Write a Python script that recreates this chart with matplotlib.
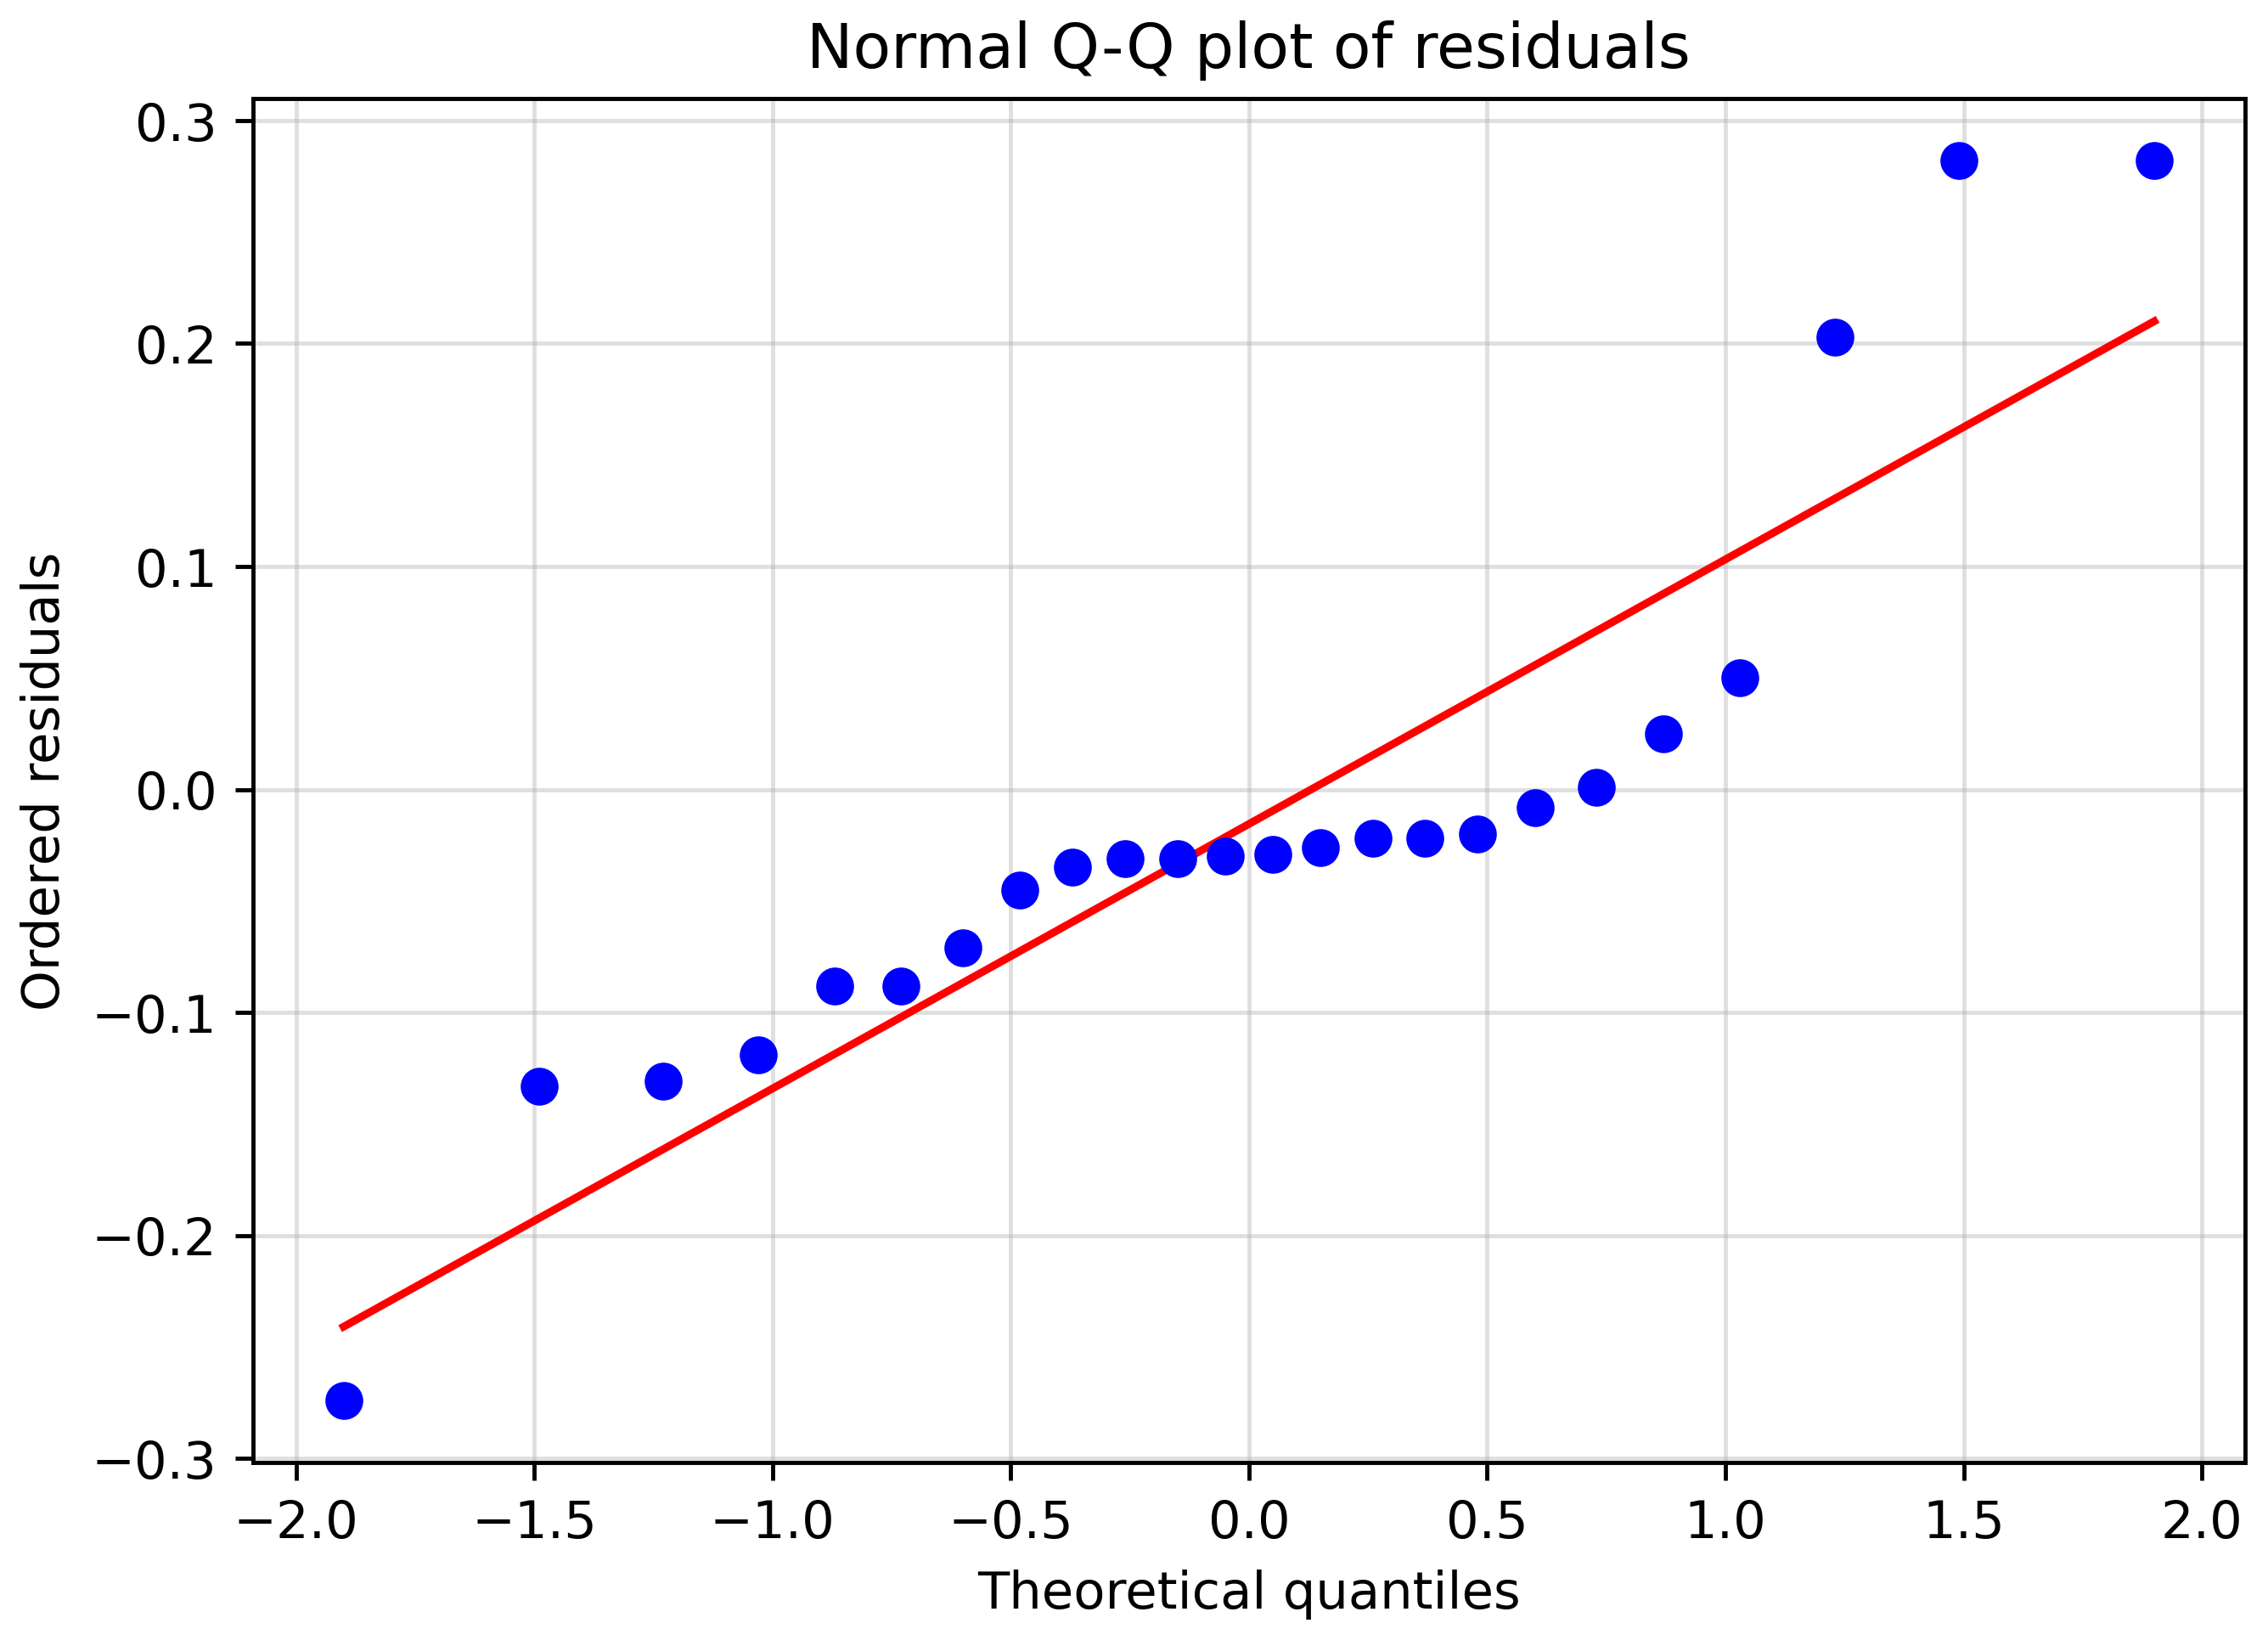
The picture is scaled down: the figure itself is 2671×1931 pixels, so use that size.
import numpy as np
import matplotlib.pyplot as plt

theoretical_q = [-1.90, -1.49, -1.23, -1.03, -0.87, -0.73, -0.60, -0.48, -0.37, -0.26, -0.15, -0.05,
                 0.05, 0.15, 0.26, 0.37, 0.48, 0.60, 0.73, 0.87, 1.03, 1.23, 1.49, 1.90]
ordered_resid = [-0.274, -0.133, -0.131, -0.119, -0.088, -0.088, -0.071, -0.045, -0.035, -0.031, -0.031, -0.030,
                 -0.029, -0.026, -0.022, -0.022, -0.020, -0.008, 0.001, 0.025, 0.050, 0.203, 0.282, 0.282]
line_x = [-1.90, 1.90]
line_y = [-0.241, 0.210]

fig, ax = plt.subplots(figsize=(6.1, 4.41), dpi=438)
ax.grid(alpha=0.4)
ax.set_axisbelow(True)
ax.plot(line_x, line_y, color='red')
ax.scatter(theoretical_q, ordered_resid, color='blue', zorder=3, s=40)
ax.set_title("Normal Q-Q plot of residuals")
ax.set_xlabel("Theoretical quantiles")
ax.set_ylabel("Ordered residuals")
plt.tight_layout(pad=0.4)
plt.savefig("out.png")
